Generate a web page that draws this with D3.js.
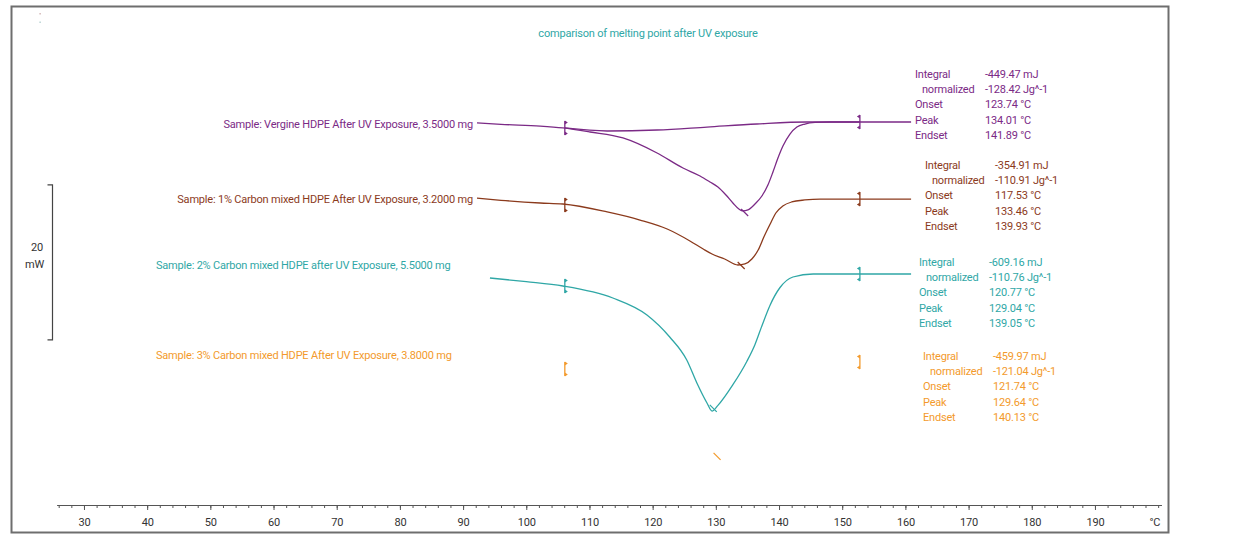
<!DOCTYPE html>
<html><head><meta charset="utf-8">
<script src="https://cdn.jsdelivr.net/npm/d3@7"></script>
<style>
html,body{margin:0;padding:0;background:#fff;}
svg{display:block;font-family:Roboto,"Liberation Sans",sans-serif;}
svg text{letter-spacing:-0.2px;}
</style></head><body>
<svg id="chart" width="1240" height="536"></svg>
<script>
// ---- DSC melting runs (temperature °C, heat flow mW incl. display offset) ----
const sampleNames = [
  "Sample: Vergine HDPE After UV Exposure, 3.5000 mg",
  "Sample: 1% Carbon mixed HDPE After UV Exposure, 3.2000 mg",
  "Sample: 2% Carbon mixed HDPE after UV Exposure, 5.5000 mg",
  "Sample: 3% Carbon mixed HDPE After UV Exposure, 3.8000 mg"
];
const vergineCurve = [[92.2,-0.1],[96,-0.3],[102.2,-0.52],[105.8,-0.77],[110.1,-1.29],[115.3,-2.06],[120.7,-4.0],[124.8,-5.94],[127.5,-6.97],[129.07,-7.74],[130.33,-8.39],[131.6,-9.42],[132.7,-10.45],[133.65,-11.23],[134.29,-11.48],[135.08,-11.35],[136.19,-10.58],[137.29,-9.55],[138.24,-8.13],[139.04,-6.45],[139.83,-4.65],[140.62,-3.1],[141.73,-1.55],[142.83,-0.65],[144.1,-0.26],[145.7,-0.06],[148.1,0],[152.8,0],[160.9,0]];
const vergineBaseline = [[106.1,-0.77],[112.8,-1.16],[120.7,-1.03],[128.6,-0.65],[136.5,-0.26],[144.4,0],[152.8,0]];
const carbon1Curve = [[92.2,-9.81],[96,-10.1],[102.2,-10.45],[105.8,-10.58],[112.8,-11.61],[118.0,-12.65],[122.3,-13.81],[125.9,-15.35],[128.0,-16.39],[129.4,-17.03],[131.4,-17.68],[133.5,-18.45],[134.6,-18.32],[135.7,-17.68],[136.7,-16.52],[137.6,-14.84],[138.6,-13.16],[139.5,-11.74],[140.6,-10.84],[142.0,-10.32],[144.1,-10.06],[146.5,-9.94],[152.8,-9.94],[160.9,-9.94]];
const carbon2Curve = [[94.25,-20.13],[100,-20.6],[105.8,-21.16],[113.7,-22.71],[119.1,-24.9],[122.7,-27.74],[125.4,-30.71],[127.0,-33.68],[128.6,-36.26],[129.4,-37.3],[130.3,-36.6],[132.7,-33.9],[134.9,-30.9],[136.2,-28.7],[137.2,-26.5],[138.6,-23.6],[140.1,-21.42],[142.2,-20.0],[145.4,-19.61],[152.8,-19.61],[160.9,-19.61]];
const sampleCurves = [vergineCurve, carbon1Curve, carbon2Curve, null];

// integration limits and the heat-flow level of each limit marker
const limitTemps = [106.1, 152.8];
const limitLevels = [[-0.77, 0], [-10.71, -9.94], [-21.16, -19.61], [-31.87, -30.97]];

// evaluation results
const integralMJ = [-449.47, -354.91, -609.16, -459.97];
const normalizedJg = [-128.42, -110.91, -110.76, -121.04];
const onsetC = [123.74, 117.53, 120.77, 121.74];
const peakC = [134.01, 133.46, 129.04, 129.64];
const endsetC = [141.89, 139.93, 139.05, 140.13];
const peakLevels = [-11.23, -18.06, -36.5, -42.7];

// temperature axis
const majorTicks = [30, 40, 50, 60, 70, 80, 90, 100, 110, 120, 130, 140, 150, 160, 170, 180, 190];
const minorTicks = d3.range(26, 201, 2);
const axisUnit = "°C";
const scaleBarMW = 20;
const titleText = "comparison of melting point after UV exposure";

// ---- styling / layout ----
const colors = ["#7b2a86", "#8b3a1c", "#2fa7a6", "#f39a2c"];
const labelLayout = [
  {x: 473, y: 124, anchor: "end"},
  {x: 473, y: 199, anchor: "end"},
  {x: 156, y: 265, anchor: "start"},
  {x: 156, y: 355, anchor: "start"}
];
const resultLayout = [{x: 915, y: 74}, {x: 925, y: 165}, {x: 919, y: 262}, {x: 923, y: 356}];

const svg = d3.select("#chart");
svg.append("rect").attr("width", 1240).attr("height", 536).attr("fill", "#fff");

const x = d3.scaleLinear().domain([25.7, 200.5]).range([56.8, 1161.3]);
const y = d3.scaleLinear().domain([0, -20]).range([122, 277]);

// frame
svg.append("rect").attr("x", 11.5).attr("y", 6.5).attr("width", 1157).attr("height", 526)
  .attr("fill", "none").attr("stroke", "#6e6e6e").attr("stroke-width", 2);

// tiny corner marks
svg.append("rect").attr("x", 39.5).attr("y", 13).attr("width", 1.2).attr("height", 1.5).attr("fill", "#c9a7a7");
svg.append("rect").attr("x", 39.5).attr("y", 21.5).attr("width", 1.2).attr("height", 1.5).attr("fill", "#a9c9c9");

// title
svg.append("text").attr("x", 648).attr("y", 33).attr("dy", "0.35em")
  .attr("text-anchor", "middle").attr("font-size", 11).attr("fill", colors[2]).text(titleText);

// axis
const axisY = 505;
const gMinor = svg.append("g").attr("transform", `translate(0,${axisY})`)
  .call(d3.axisBottom(x).tickValues(minorTicks).tickSize(3).tickSizeOuter(0).tickFormat(""));
const gMajor = svg.append("g").attr("transform", `translate(0,${axisY})`)
  .call(d3.axisBottom(x).tickValues(majorTicks).tickSize(5).tickSizeOuter(0).tickPadding(8));
[gMinor, gMajor].forEach(g => {
  g.select(".domain").attr("stroke", "#555").attr("stroke-width", 1.2);
  g.selectAll(".tick line").attr("stroke", "#555");
});
gMajor.selectAll(".tick text").attr("font-size", 11).attr("fill", "#333")
  .attr("font-family", "Roboto, 'Liberation Sans', sans-serif");
svg.append("text").attr("x", x(200.5) - 1).attr("y", 522).attr("dy", "0.35em")
  .attr("text-anchor", "end").attr("font-size", 11).attr("fill", "#333").text(axisUnit);

// scale bar (20 mW)
const barTop = -8.1;
const barX = 52.5;
svg.append("path")
  .attr("d", `M${barX - 5},${y(barTop)}H${barX}V${y(barTop - scaleBarMW)}H${barX - 5}`)
  .attr("fill", "none").attr("stroke", "#444").attr("stroke-width", 1.2);
const barMid = (y(barTop) + y(barTop - scaleBarMW)) / 2;
svg.append("text").attr("x", 43).attr("y", barMid - 15).attr("dy", "0.35em").attr("text-anchor", "end")
  .attr("font-size", 11).attr("fill", "#333").text(String(scaleBarMW));
svg.append("text").attr("x", 44).attr("y", barMid + 2).attr("dy", "0.35em").attr("text-anchor", "end")
  .attr("font-size", 11).attr("fill", "#333").text("mW");

// curves
const line = d3.line().x(d => x(d[0])).y(d => y(d[1])).curve(d3.curveMonotoneX);
sampleCurves.forEach((c, i) => {
  if (!c) return;
  svg.append("path").attr("d", line(c)).attr("fill", "none")
    .attr("stroke", colors[i]).attr("stroke-width", 1.3);
});
svg.append("path").attr("d", line(vergineBaseline)).attr("fill", "none")
  .attr("stroke", colors[0]).attr("stroke-width", 1.3);

// integration limit markers
function limitMarker(i, side) {
  const px = x(limitTemps[side]);
  const py = y(limitLevels[i][side]);
  const d = side === 0 ? 3 : -3;
  const g = svg.append("g").attr("fill", colors[i]).attr("stroke", colors[i]);
  g.append("path").attr("d", `M${px},${py - 7}V${py + 7}`).attr("stroke-width", 1.3);
  g.append("path").attr("stroke", "none")
    .attr("d", `M${px},${py - 7.5}L${px + d},${py - 5.5}L${px},${py - 3.5}Z M${px},${py + 3.5}L${px + d},${py + 5.5}L${px},${py + 7.5}Z`);
}
sampleNames.forEach((_, i) => { limitMarker(i, 0); limitMarker(i, 1); });

// peak ticks
peakC.forEach((p, i) => {
  const px = x(p), py = y(peakLevels[i]);
  svg.append("path").attr("d", `M${px},${py}L${px + 7},${py + 7}`)
    .attr("stroke", colors[i]).attr("stroke-width", 1.2);
});

// sample labels
sampleNames.forEach((s, i) => {
  const L = labelLayout[i];
  svg.append("text").attr("x", L.x).attr("y", L.y).attr("dy", "0.35em")
    .attr("text-anchor", L.anchor).attr("font-size", 11).attr("fill", colors[i]).text(s);
});

// evaluation result blocks
const fmt = v => v.toFixed(2);
sampleNames.forEach((_, i) => {
  const R = resultLayout[i];
  const rows = [
    ["Integral", fmt(integralMJ[i]) + " mJ", 0],
    ["normalized", fmt(normalizedJg[i]) + " Jg^-1", 7],
    ["Onset", fmt(onsetC[i]) + " °C", 0],
    ["Peak", fmt(peakC[i]) + " °C", 0],
    ["Endset", fmt(endsetC[i]) + " °C", 0]
  ];
  const g = svg.append("g").attr("fill", colors[i]).attr("font-size", 11);
  rows.forEach((r, k) => {
    const ty = R.y + k * 15.3;
    g.append("text").attr("x", R.x + r[2]).attr("y", ty).attr("dy", "0.35em").text(r[0]);
    g.append("text").attr("x", R.x + 70).attr("y", ty).attr("dy", "0.35em").text(r[1]);
  });
});
</script>
</body></html>
